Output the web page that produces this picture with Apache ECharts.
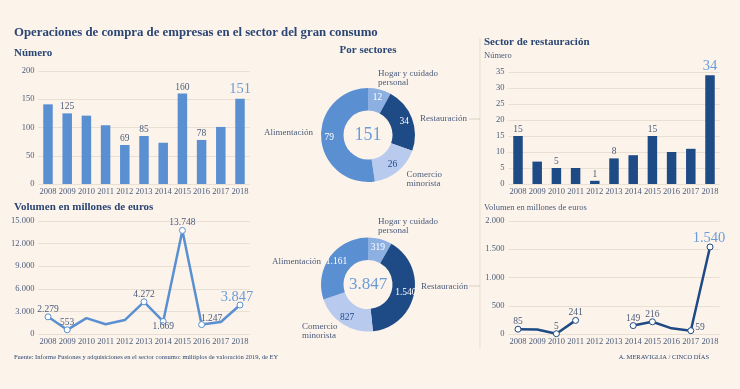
<!DOCTYPE html>
<html><head><meta charset="utf-8">
<script src="https://cdn.jsdelivr.net/npm/echarts@6/dist/echarts.min.js"></script>
<style>html,body{margin:0;padding:0;background:#fcf4ea;}#c{width:740px;height:389px;}</style>
</head><body><div id="c"></div>
<script>
// ---------- DATA ----------
const years = ['2008','2009','2010','2011','2012','2013','2014','2015','2016','2017','2018'];
const dealsCount = [141,125,121,104,69,85,73,160,78,101,151];
const dealsVolume = [2279,553,2100,1300,1850,4272,1669,13748,1247,1600,3847];
const sectorNames = ['Hogar y cuidado\npersonal','Restauración','Comercio\nminorista','Alimentación'];
const sectorCount = [12,34,26,79];
const sectorVolume = [319,1540,827,1161];
const restCount = [15,7,5,5,1,8,9,15,10,11,34];
const restVolume = [85,80,5,241,null,null,149,216,100,59,1540];
const countTicks = {max:200, interval:50};
const volumeTicks = {max:15000, interval:3000};
const restCountTicks = {max:35, interval:5};
const restVolumeTicks = {max:2000, interval:500};
const noDataText = 'Sin datos';

// ---------- STYLE / LAYOUT ----------
const BG = '#fcf4ea';
const NAVY = '#2b4675';
const TXT = '#4b5b7c';
const MID = '#5a8fd2';
const DARK = '#1e4a86';
const HILITE = '#6c9cd8';
const GRIDC = '#e9dfd2';
const SERIF = '"Liberation Serif", serif';
const sliceColors = [ '#8db0e2', DARK, '#b8cbee', MID ];
const sliceLabelColors = ['#fff','#fff', DARK, '#fff'];

const fmt = v => String(v).replace(/\B(?=(\d{3})+(?!\d))/g, '.');

// which points get a label, and where (position, offset)
const countLabels = {'2009':1,'2012':1,'2013':1,'2015':1,'2016':1,'2018':1};
const volLabels = {'2008':['top',[0,1]],'2009':['top',[0,1]],'2013':['top',[0,1]],'2014':['bottom',[0,-3]],'2015':['top',[0,1]],'2016':['top',[10,2]],'2018':['top',[-3,3]]};
const restCountLabels = {'2008':1,'2010':1,'2012':1,'2013':1,'2015':1,'2018':1};
const restVolLabels = {'2008':['top',[0,1]],'2010':['top',[0,1]],'2011':['top',[0,1]],'2014':['top',[0,1]],'2015':['top',[0,1]],'2017':['right',[1,-3]],'2018':['top',[-1,2]]};

const last = years[years.length-1];
const bigLabel = {fontSize:14.5, color:HILITE, fontFamily:SERIF};
const smallLabel = {fontSize:9.5, color:TXT, fontFamily:SERIF};

function barData(vals, labelMap){
  return vals.map((v,i)=>{
    const y = years[i];
    const show = labelMap[y] !== undefined;
    return {value:v, label: Object.assign({show, position:'top', distance:1.5}, y===last?bigLabel:smallLabel)};
  });
}
function lineData(vals, labelMap){
  return vals.map((v,i)=>{
    const y = years[i];
    const cfg = labelMap[y];
    if (!cfg) return {value:v, symbol:'none', label:{show:false}};
    return {value:v, symbol:'circle', label:Object.assign({show:true, position:cfg[0], offset:cfg[1], distance:0, formatter:p=>fmt(p.value)}, y===last?bigLabel:smallLabel)};
  });
}

const grids = [
  {left:38.4, width:211.2, top:71, height:113},
  {left:38.4, width:211.2, top:221, height:113},
  {left:508.4, width:211.2, top:72, height:112},
  {left:508.4, width:211.2, top:221, height:113}
];
const axisLabelStyle = {fontSize:8.5, color:TXT, fontFamily:SERIF};
const xAxes = grids.map((g,i)=>({type:'category', gridIndex:i, data:years, boundaryGap:true,
  axisLine:{show:false}, axisTick:{show:false}, axisLabel:Object.assign({margin:3, interval:0}, axisLabelStyle)}));
const yTicks = [countTicks, volumeTicks, restCountTicks, restVolumeTicks];
const yAxes = yTicks.map((t,i)=>({type:'value', gridIndex:i, min:0, max:t.max, interval:t.interval,
  axisLine:{show:false}, axisTick:{show:false},
  splitLine:{lineStyle:{color:GRIDC, width:1}},
  axisLabel:Object.assign({margin:4, formatter:v=>fmt(v)}, axisLabelStyle)}));

const sumCount = sectorCount.reduce((a,b)=>a+b,0);
const sumVolume = sectorVolume.reduce((a,b)=>a+b,0);

function pieSeries(vals, center){
  return {type:'pie', center:center, radius:[24.5,47], startAngle:90, clockwise:true,
    avoidLabelOverlap:false, silent:true, emphasis:{disabled:true},
    label:{show:true, position:'inside', fontSize:9.5, fontFamily:SERIF, formatter:p=>fmt(p.value)},
    labelLine:{show:false},
    data: vals.map((v,i)=>({value:v, name:sectorNames[i], itemStyle:{color:sliceColors[i]}, label:{color:sliceLabelColors[i]}}))};
}

// donut category name placement
const pieNamePos1 = [[378,69,'left'],[420,114.5,'left'],[406.5,170.5,'left'],[313,128.5,'right']];
const pieNamePos2 = [[378,217.5,'left'],[421,282,'left'],[302,322,'left'],[321,257,'right']];
function nameTexts(pos){
  return pos.map((p,i)=>({type:'text', x:p[0], y:p[1], style:{text:sectorNames[i], fontSize:9, fontFamily:SERIF, fill:TXT, align:p[2], verticalAlign:'top', lineHeight:9}}));
}

const option = {
  backgroundColor: BG,
  animation:false,
  grid: grids,
  xAxis: xAxes,
  yAxis: yAxes,
  series: [
    {type:'bar', xAxisIndex:0, yAxisIndex:0, barWidth:9.5, itemStyle:{color:MID}, data:barData(dealsCount, countLabels)},
    {type:'line', xAxisIndex:1, yAxisIndex:1, symbolSize:6, lineStyle:{color:MID, width:2.5}, itemStyle:{color:'#fff', borderColor:MID, borderWidth:1}, data:lineData(dealsVolume, volLabels)},
    {type:'bar', xAxisIndex:2, yAxisIndex:2, barWidth:9.5, itemStyle:{color:DARK}, data:barData(restCount, restCountLabels)},
    {type:'line', xAxisIndex:3, yAxisIndex:3, symbolSize:6, connectNulls:false, lineStyle:{color:DARK, width:2.5}, itemStyle:{color:'#fff', borderColor:DARK, borderWidth:1},
      data:lineData(restVolume, restVolLabels),
      markPoint:{symbol:'none', silent:true, data:[{coord:[4.5, 210], label:{show:true, formatter:noDataText, fontSize:8, color:TXT, fontFamily:SERIF, position:'inside'}}]}},
    pieSeries(sectorCount, [368,135]),
    pieSeries(sectorVolume, [368,284.5])
  ],
  graphic: [
    {type:'text', x:14, y:26.5, style:{text:'Operaciones de compra de empresas en el sector del gran consumo', fontSize:12.8, fontWeight:'bold', fontFamily:SERIF, fill:NAVY}},
    {type:'text', x:14, y:48, style:{text:'Número', fontSize:11, fontWeight:'bold', fontFamily:SERIF, fill:NAVY}},
    {type:'text', x:14, y:202, style:{text:'Volumen en millones de euros', fontSize:11, fontWeight:'bold', fontFamily:SERIF, fill:NAVY}},
    {type:'text', x:368, y:45, style:{text:'Por sectores', fontSize:11, fontWeight:'bold', fontFamily:SERIF, fill:NAVY, align:'center'}},
    {type:'text', x:484, y:37, style:{text:'Sector de restauración', fontSize:11, fontWeight:'bold', fontFamily:SERIF, fill:NAVY}},
    {type:'text', x:484, y:51.5, style:{text:'Número', fontSize:8.5, fontFamily:SERIF, fill:TXT}},
    {type:'text', x:484, y:203.5, style:{text:'Volumen en millones de euros', fontSize:8.5, fontFamily:SERIF, fill:TXT}},
    {type:'text', x:368, y:135, style:{text:fmt(sumCount), fontSize:18, fontFamily:SERIF, fill:HILITE, align:'center', verticalAlign:'middle'}},
    {type:'text', x:368, y:284.5, style:{text:fmt(sumVolume), fontSize:17, fontFamily:SERIF, fill:HILITE, align:'center', verticalAlign:'middle'}},
    ...nameTexts(pieNamePos1),
    ...nameTexts(pieNamePos2),
    {type:'line', shape:{x1:480, y1:38, x2:480, y2:348}, style:{stroke:GRIDC, lineWidth:1}},
    {type:'line', shape:{x1:469, y1:119, x2:480, y2:119}, style:{stroke:'#d8cfc4', lineWidth:1}},
    {type:'line', shape:{x1:469, y1:286, x2:480, y2:286}, style:{stroke:'#d8cfc4', lineWidth:1}},
    {type:'text', x:14, y:354, style:{text:'Fuente: Informe Fusiones y adquisiciones en el sector consumo: múltiplos de valoración 2019, de EY', fontSize:6.5, fontFamily:SERIF, fill:NAVY}},
    {type:'text', x:709, y:354, style:{text:'A. MERAVIGLIA / CINCO DÍAS', fontSize:6.5, fontFamily:SERIF, fill:NAVY, align:'right'}}
  ]
};
const chart = echarts.init(document.getElementById('c'), null, {renderer:'canvas'});
chart.setOption(option);
</script></body></html>
